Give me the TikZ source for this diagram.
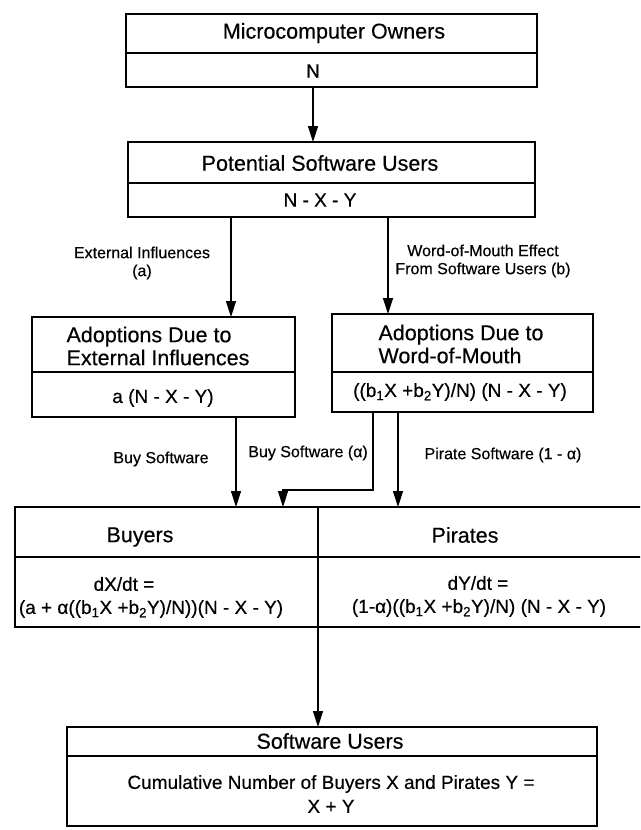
\documentclass[tikz,border=0pt]{standalone}
\usepackage{fontspec}
\setmainfont{Liberation Sans}[FakeBold=0.4]
\usetikzlibrary{arrows.meta,calc}
\newcommand\fhd{\fontsize{21.5}{23}\selectfont}
\newcommand\fbd{\fontsize{19}{24}\selectfont}
\newcommand\flb{\fontsize{16}{18}\selectfont}
\tikzset{
  boxframe/.style={draw, line width=2pt, inner sep=0pt, outer sep=0pt, anchor=north west},
  divline/.style={line width=2pt},
  hdtext/.style={font=\fhd, inner sep=0pt},
  bdtext/.style={font=\fbd, inner sep=0pt},
  lbtext/.style={font=\flb, inner sep=0pt},
  arr/.style={line width=1.4pt, -{Triangle[length=16pt,width=10pt]}},
}
\begin{document}
\begin{tikzpicture}[x=1pt,y=-1pt]
\useasboundingbox (0,0) rectangle (640,830);
\clip (0,0) rectangle (640,830);
\fill[white] (0,0) rectangle (640,830);

% Microcomputer owners
\node[boxframe, minimum width=411pt, minimum height=73pt] (owners) at (126,14) {};
\draw[divline] (126,53) -- (537,53);
\node[hdtext] (ownT) at (334,33) {Microcomputer Owners};
\node[bdtext] (ownN) at (313,71) {N};

% Potential software users
\node[boxframe, minimum width=407pt, minimum height=75pt] (potential) at (128,142) {};
\draw[divline] (128,183) -- (535,183);
\node[hdtext] (potT) at (320,163) {Potential Software Users};
\node[bdtext] (potN) at (320,200) {N - X - Y};

\draw[arr] (owners.south -| ownN) -- (potential.north -| ownN);

% Adoptions external
\node[boxframe, minimum width=263pt, minimum height=100pt] (ext) at (32,317) {};
\draw[divline] (32,372) -- (295,372);
\node[hdtext, align=left] (extT) at (158,346) {Adoptions Due to\\External Influences};
\node[bdtext] (extF) at (163,398) {a (N - X - Y)};

% Adoptions word of mouth
\node[boxframe, minimum width=261pt, minimum height=98pt] (wom) at (332,314) {};
\draw[divline] (332,372) -- (593,372);
\node[hdtext, align=left] (womT) at (461,344) {Adoptions Due to\\Word-of-Mouth};
\node[bdtext] (womF) at (460,392) {((b\textsubscript{1}X +b\textsubscript{2}Y)/N) (N - X - Y)};

% connectors from potential users
\coordinate (cExt) at (231,260);
\coordinate (cWom) at (388,260);
\draw[arr] (potential.south -| cExt) -- (ext.north -| cExt);
\draw[arr] (potential.south -| cWom) -- (wom.north -| cWom);
\node[lbtext, align=center] (lblExt) at (142,263) {External Influences\\(a)};
\node[lbtext, align=center] (lblWom) at (483,261) {Word-of-Mouth Effect\\From Software Users (b)};

% Buyers / Pirates
\node[boxframe, minimum width=640pt, minimum height=120pt] (bp) at (15,507) {};
\draw[divline] (15,557) -- (655,557);
\coordinate (vx) at (318,650);
\draw[divline] (bp.north -| vx) -- (bp.south -| vx);
\node[hdtext] (buyT) at (140,537) {Buyers};
\node[hdtext] (pirT) at (465,535) {Pirates};
\node[bdtext] (buyD) at (124,584) {dX/dt =};
\node[bdtext] (buyF) at (151,609) {(a + α((b\textsubscript{1}X +b\textsubscript{2}Y)/N))(N - X - Y)};
\node[bdtext] (pirD) at (478,583) {dY/dt =};
\node[bdtext] (pirF) at (479,608) {(1-α)((b\textsubscript{1}X +b\textsubscript{2}Y)/N) (N - X - Y)};

% connectors to buyers / pirates
\coordinate (buyx) at (236,460);
\coordinate (ax1) at (373,490);
\coordinate (ax2) at (283,490);
\coordinate (pirx) at (398,455);
\draw[arr] (ext.south -| buyx) -- (bp.north -| buyx);
\draw[arr] (wom.south -| ax1) -- (ax1) -- (ax2) -- (bp.north -| ax2);
\draw[arr] (wom.south -| pirx) -- (bp.north -| pirx);
\node[lbtext] (lblBuy) at (161,459) {Buy Software};
\node[lbtext, anchor=east] (lblBuyA) at (368,453) {Buy Software (α)};
\node[lbtext] (lblPir) at (503,455) {Pirate Software (1 - α)};

% Software users
\node[boxframe, minimum width=530pt, minimum height=99pt] (users) at (67,727) {};
\draw[divline] (67,756) -- (597,756);
\node[hdtext] (usrT) at (330,741) {Software Users};
\node[bdtext, align=center] (usrF) at (331,794) {Cumulative Number of Buyers X and Pirates Y =\\X + Y};

\draw[arr] (bp.south -| vx) -- (users.north -| vx);
\end{tikzpicture}
\end{document}
